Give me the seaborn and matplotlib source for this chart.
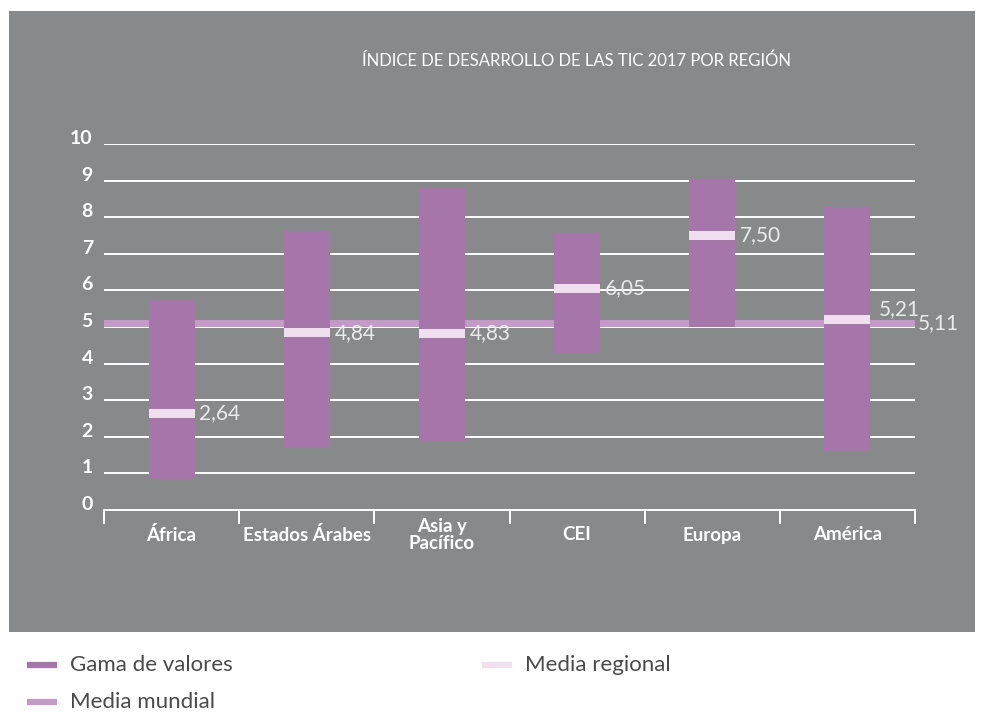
import matplotlib
matplotlib.use("Agg")
import matplotlib.pyplot as plt
import matplotlib.transforms as mtransforms
from matplotlib.patches import Rectangle
from matplotlib.lines import Line2D
import numpy as np
import pandas as pd
import seaborn as sns

# Data
regions = ["África", "Estados Árabes", "Asia y\nPacífico", "CEI", "Europa", "América"]
range_min = [0.85, 1.69, 1.89, 4.29, 5.00, 1.61]
range_max = [5.74, 7.62, 8.80, 7.57, 9.04, 8.28]
regional_mean = [2.64, 4.84, 4.83, 6.05, 7.50, 5.21]
mean_labels = ["2,64", "4,84", "4,83", "6,05", "7,50", "5,21"]
world_mean = 5.11
world_label = "5,11"
y_ticks = list(range(0, 11))

title = "ÍNDICE DE DESARROLLO DE LAS TIC 2017 POR REGIÓN"
legend_items = ["Gama de valores", "Media mundial", "Media regional"]

PANEL = "#88898b"
RANGE_C = "#a675aa"
WORLD_C = "#c39bc6"
MEAN_C = "#f0e0ef"
TEXT_C = "#ebebeb"

sns.set_style("white")
plt.rcParams["font.family"] = ["Lato", "DejaVu Sans"]

df = pd.DataFrame({
    "region": regions,
    "low": range_min,
    "high": range_max,
    "mean": regional_mean,
})
df["span"] = df["high"] - df["low"]

fig = plt.figure(figsize=(9.83, 7.12), dpi=100)
fig.patch.set_facecolor("white")

# grey panel behind the chart
W, H = 983, 712
fig.patches.append(Rectangle((9 / W, (H - 632) / H), (975 - 9) / W, (632 - 11) / H,
                             transform=fig.transFigure, facecolor=PANEL,
                             edgecolor="none", zorder=-10))

ax = fig.add_axes([104 / W, (H - 510) / H, 811 / W, 366 / H])
ax.set_facecolor("none")
ax.set_zorder(5)

# range bars
bar_w = 0.34
sns.barplot(data=df, x="region", y="span", bottom=df["low"], color=RANGE_C,
            width=bar_w, saturation=1, ax=ax, zorder=3, linewidth=0)

x = np.arange(len(regions))
# regional mean markers
ax.bar(x, [0.24] * len(x), bottom=np.array(regional_mean) - 0.12, width=bar_w,
       color=MEAN_C, zorder=4, linewidth=0)

# gridlines
for t in y_ticks[1:]:
    ax.axhline(t, color="white", lw=1.4, zorder=1)

# world mean
ax.axhline(world_mean, xmax=0.997, color=WORLD_C, lw=5, zorder=2)
ax.text(5.5 + 0.02, world_mean, world_label, color=TEXT_C, fontsize=15,
        ha="left", va="center", zorder=5, clip_on=False)

# mean labels (the last one is lifted to clear the world mean label)
for i, (m, lab) in enumerate(zip(regional_mean, mean_labels)):
    y = m
    dx = 0.035
    if i == len(regions) - 1:
        y = m + 0.28
        dx = 0.065
    ax.text(i + bar_w / 2 + dx, y, lab, color=TEXT_C, fontsize=15,
            ha="left", va="center", zorder=5)

ax.set_xlim(-0.5, 5.5)
ax.set_ylim(0, 10)
ax.set_yticks(y_ticks)
ax.set_yticklabels([str(t) for t in y_ticks], color="white", fontsize=14,
                   fontweight="bold")
ax.tick_params(axis="y", length=0, pad=8)
offset = mtransforms.ScaledTranslation(0, 5 / 72, fig.dpi_scale_trans)
for lab in ax.get_yticklabels():
    lab.set_transform(lab.get_transform() + offset)

ax.set_xticks(x)
ax.set_xticklabels(regions, color="white", fontsize=13.5, fontweight="bold",
                   linespacing=1.05)
ax.tick_params(axis="x", which="major", length=0, pad=18)
for lab in ax.get_xticklabels():
    lab.set_verticalalignment("center")
ax.set_xticks(np.arange(-0.5, 6, 1), minor=True)
ax.tick_params(axis="x", which="minor", bottom=True, length=10, width=1.4,
               color="white", direction="out")

for s in ["top", "right", "left"]:
    ax.spines[s].set_visible(False)
ax.spines["bottom"].set_color("white")
ax.spines["bottom"].set_linewidth(1.4)
ax.set_xlabel("")
ax.set_ylabel("")

fig.text(577 / W, (H - 61) / H, title, color="white", fontsize=12,
         ha="center", va="center")

# legend below the panel
leg = [(27, 665, RANGE_C, legend_items[0]),
       (27, 702, WORLD_C, legend_items[1]),
       (482, 665, MEAN_C, legend_items[2])]
for px, py, c, lab in leg:
    fy = (H - py) / H
    fig.lines.append(Line2D([px / W, (px + 30) / W], [fy, fy], color=c, lw=4.5,
                            solid_capstyle="butt", transform=fig.transFigure))
    fig.text((px + 43) / W, fy, lab, color="#4a4a4a", fontsize=16,
             ha="left", va="center")

fig.savefig("out.png", dpi=100)
